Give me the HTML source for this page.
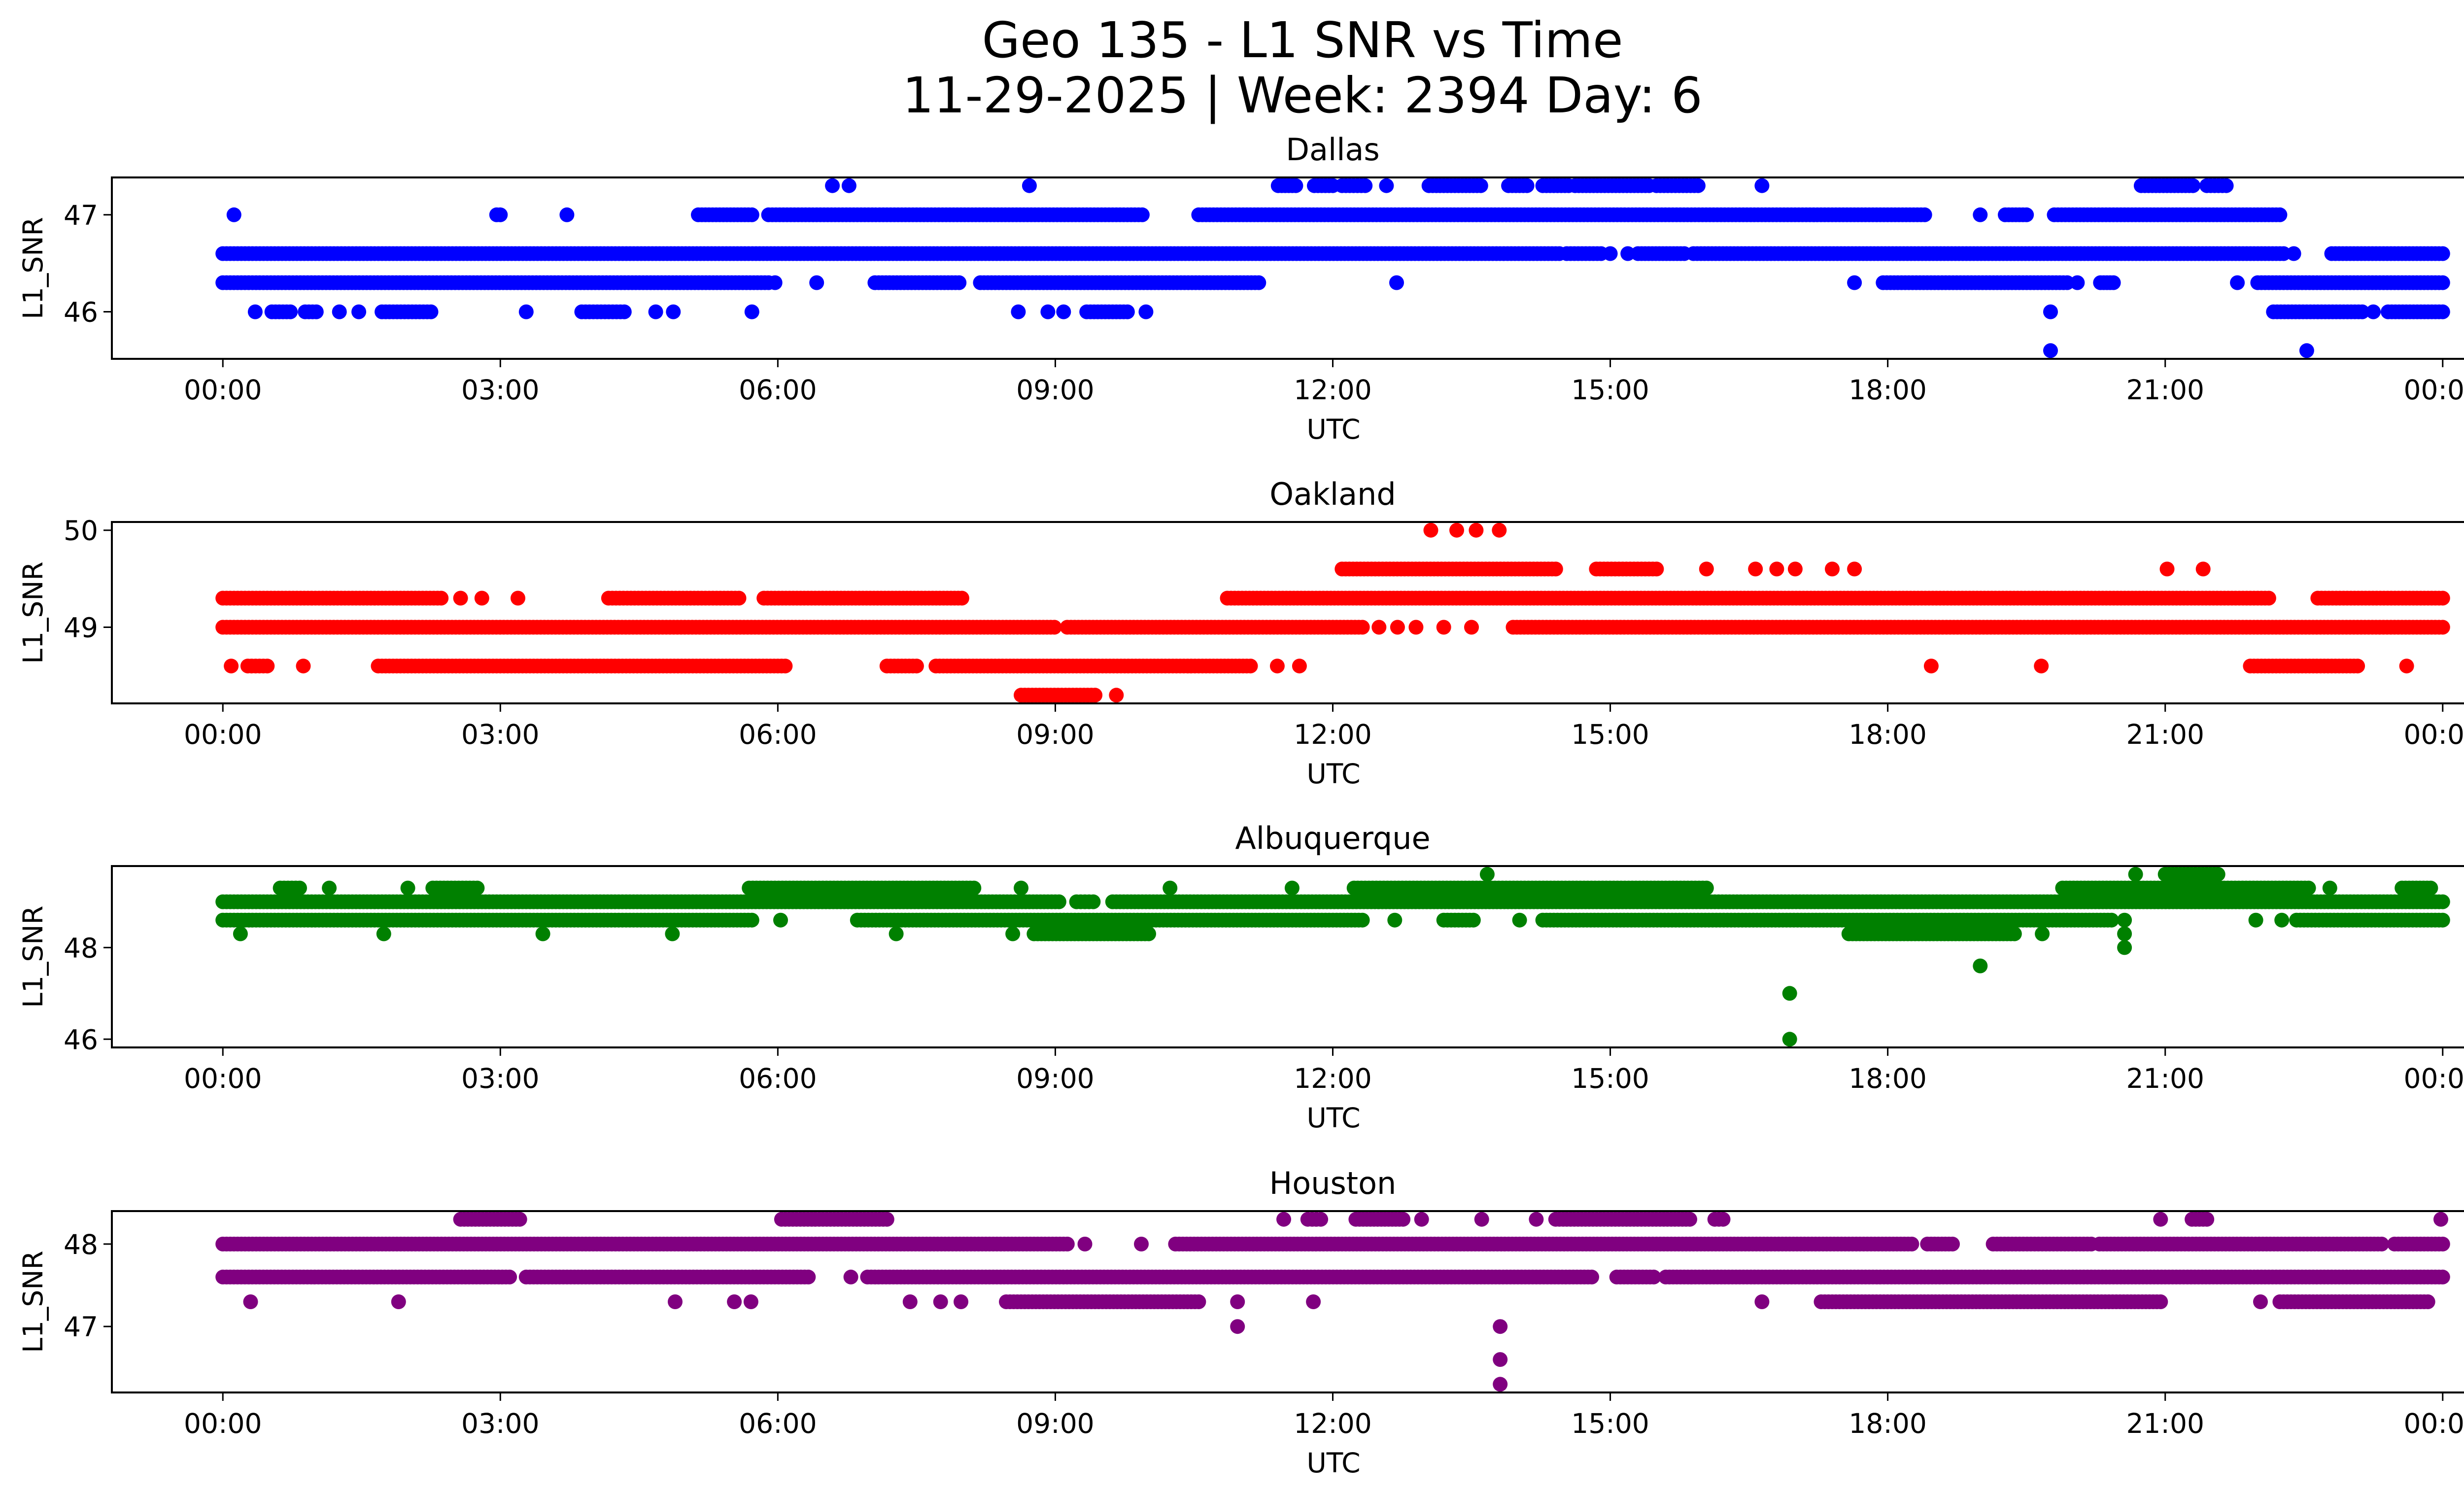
<!DOCTYPE html>
<html><head><meta charset="utf-8"><style>
html,body{margin:0;padding:0;background:#fff;}
svg{display:block;}
text{font-family:"DejaVu Sans","Liberation Sans",sans-serif;fill:#000;}
</style></head>
<body>
<svg id="chart" width="5225" height="3033" viewBox="0 0 5225 3033" xmlns="http://www.w3.org/2000/svg">
<rect width="5225" height="3033" fill="#fff"/>
<text x="2643" y="116" font-size="100" text-anchor="middle">Geo 135 - L1 SNR vs Time</text>
<text x="2643" y="228" font-size="100" text-anchor="middle">11-29-2025 | Week: 2394 Day: 6</text>
<g id="panels"></g>
</svg>
<script>
const stationNames = ["Dallas", "Oakland", "Albuquerque", "Houston"];
const stationColors = ["#0000ff", "#ff0000", "#008000", "#800080"];
const xTickHours = [0, 3, 6, 9, 12, 15, 18, 21, 24];
const xTickLabels = ["00:00","03:00","06:00","09:00","12:00","15:00","18:00","21:00","00:00"];
const yLimits = [[45.515, 47.385], [48.215, 50.085], [45.82, 49.78], [46.2, 48.4]];
const yTicks = [[46, 47], [49, 50], [46, 48], [47, 48]];
// runs: [SNR level, start hour, end hour] (single point if no end)
const dallasRuns = [
 [47.3,6.59],[47.3,6.77],[47.3,8.72],[47.3,11.41,11.6],[47.3,11.8,12.0],[47.3,12.1,12.35],[47.3,12.58],[47.3,13.04,13.6],[47.3,13.9,14.1],[47.3,14.27,14.55],[47.3,14.62,15.42],[47.3,15.5,15.95],[47.3,16.64],[47.3,20.74,21.3],[47.3,21.45,21.66],
 [47.0,0.12],[47.0,2.96,3.0],[47.0,3.72],[47.0,5.14,5.72],[47.0,5.9,9.94],[47.0,10.55,18.4],[47.0,19.0],[47.0,19.27,19.5],[47.0,19.8,22.24],
 [46.6,0,14.45],[46.6,14.53,14.9],[46.6,15.0],[46.6,15.19],[46.6,15.3,15.8],[46.6,15.9,22.28],[46.6,22.39],[46.6,22.8,24],
 [46.3,0,5.9],[46.3,5.97],[46.3,6.42],[46.3,7.05,7.96],[46.3,8.19,11.2],[46.3,12.69],[46.3,17.64],[46.3,17.95,19.94],[46.3,20.05],[46.3,20.3,20.44],[46.3,21.78],[46.3,22.0,24],
 [46.0,0.35],[46.0,0.53,0.73],[46.0,0.89,1.01],[46.0,1.26],[46.0,1.47],[46.0,1.72,2.25],[46.0,3.28],[46.0,3.88,4.34],[46.0,4.68],[46.0,4.87],[46.0,5.72],[46.0,8.6],[46.0,8.92],[46.0,9.09],[46.0,9.34,9.78],[46.0,9.98],[46.0,19.76],[46.0,22.17,23.13],[46.0,23.25],[46.0,23.41,24],
 [45.6,19.76],[45.6,22.53]
];
const oaklandRuns = [
 [50.0,13.06],[50.0,13.34],[50.0,13.55],[50.0,13.8],
 [49.6,12.1,14.41],[49.6,14.85,15.5],[49.6,16.04],[49.6,16.57],[49.6,16.8],[49.6,17.0],[49.6,17.4],[49.6,17.64],[49.6,21.02],[49.6,21.41],
 [49.3,0,2.36],[49.3,2.57],[49.3,2.8],[49.3,3.19],[49.3,4.17,5.58],[49.3,5.85,7.99],[49.3,10.86,22.12],[49.3,22.65,24],
 [49.0,0,8.99],[49.0,9.13,12.32],[49.0,12.5],[49.0,12.7],[49.0,12.9],[49.0,13.2],[49.0,13.5],[49.0,13.95,24],
 [48.6,0.09],[48.6,0.27,0.48],[48.6,0.87],[48.6,1.68,6.08],[48.6,7.18,7.5],[48.6,7.71,11.11],[48.6,11.4],[48.6,11.64],[48.6,18.47],[48.6,19.66],[48.6,21.92,23.08],[48.6,23.61],
 [48.3,8.63,9.43],[48.3,9.66]
];
const albuquerqueRuns = [
 [49.6,13.67],[49.6,20.68],[49.6,21.0,21.57],
 [49.3,0.62,0.83],[49.3,1.15],[49.3,2.0],[49.3,2.27,2.75],[49.3,5.69,8.12],[49.3,8.63],[49.3,10.24],[49.3,11.56],[49.3,12.23,16.04],[49.3,19.89,22.55],[49.3,22.78],[49.3,23.56,23.87],
 [49.0,0,9.04],[49.0,9.23,9.41],[49.0,9.62,24],
 [48.6,0,5.72],[48.6,6.03],[48.6,6.86,12.32],[48.6,12.67],[48.6,13.2,13.52],[48.6,14.02],[48.6,14.27,20.42],[48.6,20.56],[48.6,21.98],[48.6,22.26],[48.6,22.42,24],
 [48.3,0.19],[48.3,1.74],[48.3,3.46],[48.3,4.86],[48.3,7.28],[48.3,8.54],[48.3,8.77,10.01],[48.3,17.58,19.37],[48.3,19.67],[48.3,20.56],
 [48.0,20.56],[47.6,19.0],[47.0,16.94],[46.0,16.94]
];
const houstonRuns = [
 [48.3,2.57,3.21],[48.3,6.04,7.18],[48.3,11.47],[48.3,11.73,11.87],[48.3,12.25,12.76],[48.3,12.96],[48.3,13.61],[48.3,14.2],[48.3,14.41,15.86],[48.3,16.13,16.22],[48.3,20.95],[48.3,21.29,21.45],[48.3,23.98],
 [48.0,0,9.13],[48.0,9.32],[48.0,9.93],[48.0,10.3,18.26],[48.0,18.43,18.7],[48.0,19.14,20.2],[48.0,20.29,23.34],[48.0,23.48,24],
 [47.6,0,3.1],[47.6,3.28,6.33],[47.6,6.79],[47.6,6.97,14.8],[47.6,15.07,15.47],[47.6,15.6,24],
 [47.3,0.3],[47.3,1.9],[47.3,4.89],[47.3,5.53],[47.3,5.71],[47.3,7.43],[47.3,7.76],[47.3,7.98],[47.3,8.47,10.55],[47.3,10.97],[47.3,11.79],[47.3,16.64],[47.3,17.28,20.95],[47.3,22.03],[47.3,22.24,23.84],
 [47.0,10.97],[47.0,13.81],[46.6,13.81],[46.3,13.81]
];
const stationRuns = [dallasRuns, oaklandRuns, albuquerqueRuns, houstonRuns];

const NS = "http://www.w3.org/2000/svg";
const AX_L = 227, AX_R = 5182, AX_H = 368;
const panelTops = [360, 1059, 1757, 2457];
const X_MIN = -1.2, X_MAX = 25.2;
function xScale(h){ return AX_L + (h - X_MIN) / (X_MAX - X_MIN) * (AX_R - AX_L); }
function mk(tag, attrs, parent){ const e = document.createElementNS(NS, tag); for (const k in attrs) e.setAttribute(k, attrs[k]); parent.appendChild(e); return e; }

const root = document.getElementById("panels");
stationNames.forEach((name, i) => {
  const top = panelTops[i], bot = top + AX_H;
  const [y0, y1] = yLimits[i];
  const yScale = v => bot - (v - y0) / (y1 - y0) * AX_H;
  const g = mk("g", {}, root);
  
  
  const t = mk("text", {x: (AX_L + AX_R) / 2, y: top - 35, "font-size": 62, "text-anchor": "middle"}, g);
  t.textContent = name;
  
  
  // points
  const pts = mk("g", {fill: stationColors[i]}, g);
  
  
  stationRuns[i].forEach(r => {
    const lvl = r[0], a = r[1], b = r.length > 2 ? r[2] : r[1];
    const cy = yScale(lvl);
    const n = Math.max(0, Math.round((b - a) / 0.04));
    for (let k = 0; k <= n; k++) {
      const h = n === 0 ? a : a + (b - a) * k / n;
      const c = mk("circle", {cx: xScale(h).toFixed(1), cy: cy.toFixed(1), r: 15}, pts);
      
      
    }
  });
  // frame
  const fr = mk("rect", {x: AX_L, y: top, width: AX_R - AX_L, height: AX_H, fill: "none", stroke: "#000", "stroke-width": 4}, g);
  
  
  // x ticks
  xTickHours.forEach((h, k) => {
    const x = xScale(h);
    const tk = mk("line", {x1: x, x2: x, y1: bot, y2: bot + 17, stroke: "#000", "stroke-width": 3}, g);
    
    
    const tl = mk("text", {x: x, y: bot + 82, "font-size": 55, "text-anchor": "middle"}, g);
    tl.textContent = xTickLabels[k];
    
    
  });
  const xl = mk("text", {x: 2706, y: bot + 162, "font-size": 55, "text-anchor": "middle"}, g);
  xl.textContent = "UTC";
  
  
  // y ticks
  yTicks[i].forEach(v => {
    const y = yScale(v);
    const tk = mk("line", {x1: AX_L - 17, x2: AX_L, y1: y, y2: y, stroke: "#000", "stroke-width": 3}, g);
    
    
    const tl = mk("text", {x: AX_L - 28, y: y + 20, "font-size": 55, "text-anchor": "end"}, g);
    tl.textContent = String(v);
    
    
  });
  const cy = top + AX_H / 2;
  const yl = mk("text", {x: 0, y: 0, "font-size": 55, "text-anchor": "middle", transform: "translate(86," + cy + ") rotate(-90)"}, g);
  yl.textContent = "L1_SNR";
  
  
});
</script>
</body></html>
